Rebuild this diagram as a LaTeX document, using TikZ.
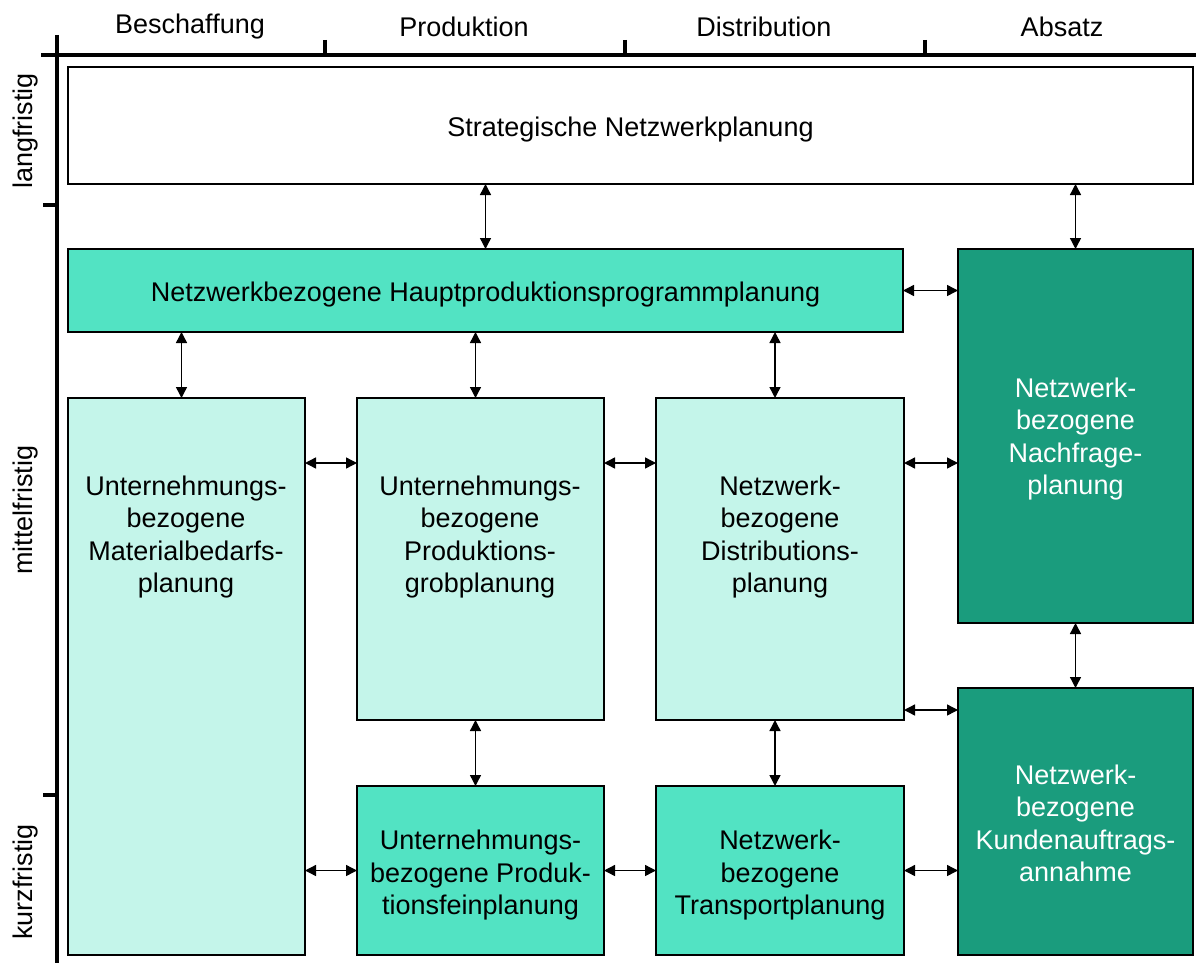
\documentclass[tikz,border=0pt]{standalone}
\usepackage{fontspec}
\setmainfont{Liberation Sans}
\usetikzlibrary{arrows.meta}
\definecolor{lightmint}{HTML}{C4F5EA}
\definecolor{mint}{HTML}{52E3C3}
\definecolor{deepgreen}{HTML}{1A9C7D}
\begin{document}
\begin{tikzpicture}[x=1pt,y=-1pt,
  every node/.style={font=\fontsize{27}{32.5}\selectfont},
  box/.style={draw=black,line width=1.3pt,inner sep=0pt,outer sep=0pt,anchor=north west},
  txt/.style={align=center,inner sep=0pt},
  axis/.style={line width=4pt,line cap=butt},
  link/.style={line width=1.4pt,{Triangle[length=11pt,width=11pt]}-{Triangle[length=11pt,width=11pt]}}]
\useasboundingbox (0,0) rectangle (1196,963);

% axes with ticks
\draw[axis] (57,35) -- (57,963);
\draw[axis] (41,55) -- (1196,55);
\foreach \tx in {325,625,925} \draw[axis] (\tx,40) -- (\tx,55);
\foreach \ty in {205,795} \draw[axis] (43,\ty) -- (57,\ty);

% column and horizon labels
\node (c1) at (190,27) {Beschaffung};
\node (c2) at (464,27) {Produktion};
\node (c3) at (764,27) {Distribution};
\node (c4) at (1062,27) {Absatz};
\node[rotate=90] (r1) at (26,131) {langfristig};
\node[rotate=90] (r2) at (26,510) {mittelfristig};
\node[rotate=90] (r3) at (26,882) {kurzfristig};

% planning boxes
\node[box,fill=white,minimum width=1125,minimum height=117] (s) at (68,67) {};
\node[box,fill=mint,minimum width=835,minimum height=83] (h) at (68,249) {};
\node[box,fill=deepgreen,minimum width=235,minimum height=374] (n) at (958,249) {};
\node[box,fill=lightmint,minimum width=237,minimum height=557] (m) at (68,398) {};
\node[box,fill=lightmint,minimum width=247,minimum height=322] (g) at (357,398) {};
\node[box,fill=lightmint,minimum width=248,minimum height=322] (d) at (656,398) {};
\node[box,fill=deepgreen,minimum width=235,minimum height=267] (k) at (958,688) {};
\node[box,fill=mint,minimum width=247,minimum height=169] (f) at (357,786) {};
\node[box,fill=mint,minimum width=248,minimum height=169] (t) at (656,786) {};

% box texts
\node[txt] (st) at ([yshift=-4]s.center) {Strategische Netzwerkplanung};
\node[txt] (ht) at ([yshift=-4]h.center) {Netzwerkbezogene Hauptproduktionsprogrammplanung};
\node[txt,text=white] (nt) at ([yshift=-3]n.center) {Netzwerk-\\bezogene\\Nachfrage-\\planung};
\node[txt] (mt) at (186,537) {Unternehmungs-\\bezogene\\Materialbedarfs-\\planung};
\node[txt] (gt) at (480,537) {Unternehmungs-\\bezogene\\Produktions-\\grobplanung};
\node[txt] (dt) at (780,537) {Netzwerk-\\bezogene\\Distributions-\\planung};
\node[txt,text=white] (kt) at ([yshift=-2]k.center) {Netzwerk-\\bezogene\\Kundenauftrags-\\annahme};
\node[txt] (ft) at ([yshift=-5]f.center) {Unternehmungs-\\bezogene Produk-\\tionsfeinplanung};
\node[txt] (tt) at ([yshift=-5]t.center) {Netzwerk-\\bezogene\\Transportplanung};

% row heights of horizontal links
\coordinate (rowA) at (0,463);
\coordinate (rowB) at (0,710);

% vertical links
\draw[link] (s.south -| h.north) -- (h.north);
\draw[link] (s.south -| n.north) -- (n.north);
\draw[link] ([xshift=-5]m.north |- h.south) -- ([xshift=-5]m.north);
\draw[link] ([xshift=-5]g.north |- h.south) -- ([xshift=-5]g.north);
\draw[link] ([xshift=-5]d.north |- h.south) -- ([xshift=-5]d.north);
\draw[link] ([xshift=-5]g.south) -- ([xshift=-5]f.north);
\draw[link] ([xshift=-5]d.south) -- ([xshift=-5]t.north);
\draw[link] (n.south) -- (k.north);

% horizontal links
\draw[link] (h.east) -- (h.east -| n.west);
\draw[link] (m.east |- rowA) -- (g.west |- rowA);
\draw[link] (g.east |- rowA) -- (d.west |- rowA);
\draw[link] (d.east |- rowA) -- (n.west |- rowA);
\draw[link] (d.east |- rowB) -- (k.west |- rowB);
\draw[link] (m.east |- f.west) -- (f.west);
\draw[link] (f.east) -- (t.west);
\draw[link] (t.east) -- (t.east -| k.west);
\end{tikzpicture}
\end{document}
